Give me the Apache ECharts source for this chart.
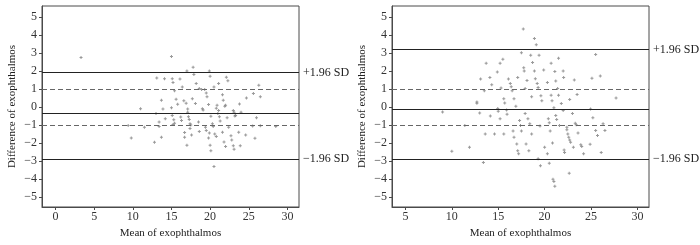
<!DOCTYPE html>
<html>
<head>
<meta charset="utf-8">
<script src="https://cdn.jsdelivr.net/npm/echarts@6/dist/echarts.min.js"></script>
<style>
  html, body { margin: 0; padding: 0; background: #fff; }
  #chart { width: 700px; height: 245px; }
</style>
</head>
<body>
<div id="chart"></div>
<script>
// left panel: mean vs difference
const leftMean = [3.3, 15.0, 17.8, 17.0, 19.9, 13.1, 14.1, 15.1, 16.1, 17.9, 20.0, 18.2, 15.2, 21.1, 22.1, 22.3, 26.3,
  15.4, 16.4, 18.6, 20.5, 19.3, 19.5, 21.6, 25.6, 26.5, 24.7, 13.7, 15.6, 17.7, 18.1, 19.6, 21.7, 23.8,
  11.0, 13.9, 15.0, 15.8, 17.1, 19.1, 19.8, 20.8, 21.9, 23.0, 24.0, 13.0, 15.1, 16.2, 17.2, 20.1, 21.0, 22.2, 23.3, 26.0,
  14.2, 15.3, 13.4, 15.4, 16.3, 17.4, 18.5, 20.3, 21.3, 9.4, 11.5, 13.4, 15.2, 17.4, 19.4, 20.4, 22.4, 25.5, 26.5, 28.5,
  16.7, 17.6, 18.6, 19.5, 20.6, 21.6, 22.7, 23.7, 24.6, 9.8, 13.7, 16.7, 19.8, 20.8, 22.8, 25.8,
  12.8, 21.8, 23.0, 23.9, 17.0, 20.0, 22.0, 20.1, 23.1, 20.5,
  17.1, 17.3, 17.5, 21.1, 21.2, 23.1, 23.2, 16.9, 20.9, 19.9, 19.0, 22.0, 18.9, 16.6]
const leftDiff = [2.75, 2.8, 2.2, 2.0, 2.0, 1.6, 1.57, 1.57, 1.55, 1.8, 1.7, 1.3, 1.35, 1.3, 1.65, 1.45, 1.2,
  0.9, 1.1, 1.03, 1.1, 0.97, 0.78, 0.67, 0.75, 0.56, 0.5, 0.37, 0.43, 0.45, 0.19, 0.56, 0.37, 0.17,
  -0.1, -0.11, -0.04, 0.15, -0.11, -0.17, 0.13, -0.07, 0.04, -0.19, -0.3, -0.37, -0.47, -0.56, -0.55, -0.52, -0.37, -0.6, -0.47, -0.6,
  -0.65, -0.71, -0.84, -0.9, -0.75, -0.93, -0.84, -0.93, -0.78, -1.03, -1.12, -1.08, -0.97, -1.2, -1.12, -1.08, -1.12, -1.06, -1.04, -1.08,
  -1.42, -1.55, -1.36, -1.3, -1.5, -1.4, -1.6, -1.4, -1.55, -1.72, -1.68, -1.68, -1.72, -1.64, -1.83, -1.74,
  -1.96, -1.94, -2.15, -2.15, -2.13, -2.13, -2.2, -2.43, -2.35, -3.3,
  -0.3, -0.7, -1.0, -0.2, -0.55, -0.3, -0.5, 0.2, 0.1, -1.45, -0.1, 0.1, 0.97, 0.35]

// right panel
const rightMean = [9.0, 10.0, 11.9, 11.4, 12.7, 12.7, 13.1, 13.0, 13.4, 13.6, 13.7, 13.5, 14.1, 14.3, 14.15, 14.6,
  14.9, 14.95, 15.0, 15.2, 15.3, 15.2, 15.5, 15.6, 15.7, 15.6, 15.9, 15.95, 16.1, 16.3, 16.4, 16.5, 16.6, 16.7, 16.7,
  16.9, 17.0, 17.1, 17.1, 17.2, 17.3, 17.4, 17.5, 17.5, 17.7, 17.75, 17.8, 17.9, 17.9, 18.0, 18.1, 18.2, 18.3, 18.4,
  18.5, 18.6, 18.6, 18.7, 18.9, 18.9, 19.0, 19.1, 19.2, 19.3, 19.4, 19.3, 19.5, 19.55, 19.6, 19.7, 19.9, 20.0,
  20.3, 20.4, 20.3, 20.5, 20.5, 20.6, 20.7, 20.7, 20.8, 20.85, 20.9, 21.0, 21.0, 21.1, 21.1, 21.2, 21.2, 21.3,
  21.4, 21.5, 21.5, 21.6, 21.8, 22.0, 22.05, 22.0, 22.1, 22.15, 22.4, 22.4, 22.5, 22.6, 22.7, 22.7, 22.8, 22.65,
  23.0, 23.1, 23.2, 23.3, 23.4, 23.5, 23.6, 23.9, 24.0, 24.2, 24.9, 24.95, 25.1, 25.2, 25.5, 25.5, 25.7, 26.0,
  26.1, 26.3, 26.5, 27.7]
const rightDiff = [-0.28, -2.46, -2.24, -1.03, 0.28, 0.2, 1.55, -0.34, -3.08, -1.5, 2.43, 0.9, 1.64, 1.23, -0.5, -1.5,
  1.94, -0.09, -0.24, 2.43, 1.05, -0.65, 2.65, 0.45, 0.22, -1.5, -0.17, -0.41, 1.55, 1.3, 1.12, 0.9, -1.34, 0.45, -1.68,
  0.04, -2.05, 1.64, -2.43, -2.6, -0.75, -1.03, 3.0, -1.34, 4.33, 2.18, 2.0, 1.03, -0.37, -2.05, 1.47, -0.65, -2.43, -0.93,
  2.87, 0.56, -1.5, 2.46, 2.0, 3.8, 1.57, 3.45, 1.3, 1.08, 2.87, -2.87, -1.06, -3.26, 0.62, 0.35, 2.05, -2.24,
  1.35, -0.65, -2.6, -0.88, -3.13, -1.34, 2.43, 0.65, 0.34, -2.0, -4.01, -0.04, -4.14, -4.4, 1.96, 1.44, -0.47, -0.69,
  1.03, 2.7, 0.65, -1.03, 0.19, 2.0, 1.64, -0.19, -2.39, -2.52, -1.12, -1.27, -1.5, -1.68, 0.41, -1.83, -1.96, -3.68,
  -0.37, -2.24, 1.5, -0.9, -0.99, 0.69, -1.44, -2.09, -2.2, -2.6, -2.07, -0.11, 1.59, -0.6, 2.91, -1.31, -1.59, 1.72,
  -2.52, -0.93, -1.31, 0.5]

// limits: [+1.96 SD, mean, -1.96 SD] and the dashed ±1 lines
const leftLimits = [1.91, -0.33, -2.88]
const rightLimits = [3.18, -0.12, -2.88]
const dashedLines = [1, -1]

const xTicksLeft = [0, 5, 10, 15, 20, 25, 30]
const xTicksRight = [5, 10, 15, 20, 25, 30]
const yTicks = [-5, -4, -3, -2, -1, 0, 1, 2, 3, 4, 5]

const FONT = 'Liberation Serif'
const AXIS_COLOR = '#4a4a4a'
const minus = (v) => String(v).replace('-', '\u2212')

const chart = echarts.init(document.getElementById('chart'), null, { renderer: 'canvas' })

const makeX = (idx, min, max, ticks) => ({
  gridIndex: idx,
  type: 'value',
  min,
  max,
  name: 'Mean of exophthalmos',
  nameLocation: 'middle',
  nameGap: 19,
  nameTextStyle: { fontFamily: FONT, fontSize: 11, color: '#222' },
  axisLine: { show: true, onZero: false, lineStyle: { color: AXIS_COLOR, width: 1 } },
  axisTick: { show: true, inside: false, length: 3, customValues: ticks, lineStyle: { color: AXIS_COLOR } },
  axisLabel: { customValues: ticks, margin: 4, fontFamily: FONT, fontSize: 12, color: '#333' },
  splitLine: { show: false },
})

const makeY = (idx) => ({
  gridIndex: idx,
  type: 'value',
  min: -5.55,
  max: 5.6,
  name: 'Difference of exophthalmos',
  nameLocation: 'middle',
  nameGap: 24,
  nameTextStyle: { fontFamily: FONT, fontSize: 11, color: '#222' },
  axisLine: { show: true, onZero: false, lineStyle: { color: AXIS_COLOR, width: 1 } },
  axisTick: { show: true, inside: false, length: 3, customValues: yTicks, lineStyle: { color: AXIS_COLOR } },
  axisLabel: {
    customValues: yTicks,
    margin: 5,
    fontFamily: FONT,
    fontSize: 12,
    color: '#333',
    formatter: (v) => minus(v),
  },
  splitLine: { show: false },
})

const limitLines = (limits) => [
  {
    yAxis: limits[0],
    lineStyle: { type: 'solid', color: '#222', width: 1 },
    label: { show: true, formatter: '+1.96 SD' },
  },
  { yAxis: limits[1], lineStyle: { type: 'solid', color: '#222', width: 1 }, label: { show: false } },
  {
    yAxis: limits[2],
    lineStyle: { type: 'solid', color: '#222', width: 1 },
    label: { show: true, formatter: '\u22121.96 SD' },
  },
  ...dashedLines.map((v) => ({
    yAxis: v,
    lineStyle: { type: [5, 3], color: '#666', width: 1.2 },
    label: { show: false },
  })),
]

const makeSeries = (idx, xs, ys, limits) => ({
  type: 'scatter',
  xAxisIndex: idx,
  yAxisIndex: idx,
  data: xs.map((x, i) => [x, ys[i]]),
  symbol: 'path://M1,0H2V1H3V2H2V3H1V2H0V1H1Z',
  symbolSize: 3,
  itemStyle: { color: '#808080' },
  silent: true,
  animation: false,
  markLine: {
    silent: true,
    symbol: 'none',
    animation: false,
    label: {
      position: 'end',
      distance: 4,
      fontFamily: FONT,
      fontSize: 12,
      color: '#222',
    },
    data: limitLines(limits),
  },
})

const option = {
  backgroundColor: '#fff',
  animation: false,
  grid: [
    { left: 42, top: 6, width: 257, height: 201, show: true, borderColor: AXIS_COLOR, borderWidth: 1 },
    { left: 392, top: 6, width: 257, height: 201, show: true, borderColor: AXIS_COLOR, borderWidth: 1 },
  ],
  xAxis: [makeX(0, -1.75, 31.5, xTicksLeft), makeX(1, 3.55, 31.25, xTicksRight)],
  yAxis: [makeY(0), makeY(1)],
  series: [
    makeSeries(0, leftMean, leftDiff, leftLimits),
    makeSeries(1, rightMean, rightDiff, rightLimits),
  ],
}

chart.setOption(option)
</script>
</body>
</html>
